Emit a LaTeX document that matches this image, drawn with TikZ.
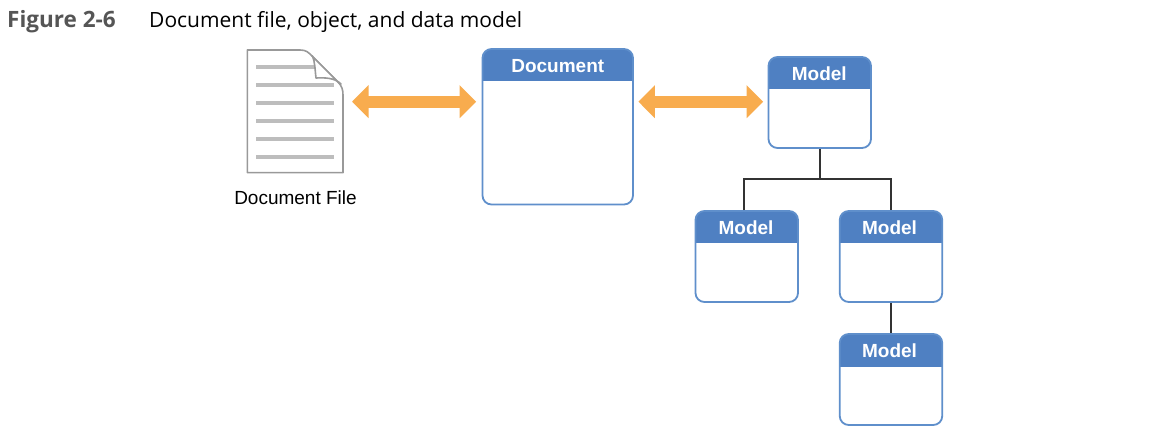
\documentclass[tikz,border=0pt]{standalone}
\usepackage{fontspec}
\setmainfont{Liberation Sans}
\newfontfamily\capfont{Open Sans}
\usetikzlibrary{arrows.meta}
\definecolor{hdrblue}{HTML}{4F80C2}
\definecolor{edgeblue}{HTML}{5F8FCB}
\definecolor{arrorange}{HTML}{F8AC4E}
\definecolor{pagegrey}{HTML}{999999}
\definecolor{rulegrey}{HTML}{BDBDBD}
\definecolor{wirecol}{HTML}{333333}
\definecolor{figgrey}{HTML}{555555}
\tikzset{
  cardbox/.style={draw=edgeblue,line width=1.8pt,fill=white,rounded corners=9pt,inner sep=0pt,
    minimum width=#1,
    path picture={\fill[hdrblue,sharp corners] (path picture bounding box.north west) rectangle ([yshift=-32.5pt]path picture bounding box.north east);}},
  cardtitle/.style={text=white,font=\bfseries\fontsize{19}{21}\selectfont,anchor=base,inner sep=0pt},
  dblarrow/.style={draw=arrorange,line width=12pt,{Triangle[width=32pt,length=16.5pt]}-{Triangle[width=32pt,length=16.5pt]}},
  wire/.style={draw=wirecol,line width=1.6pt},
  pagerule/.style={draw=rulegrey,line width=3.5pt},
  pageline/.style={draw=pagegrey,line width=1.6pt,line join=round}
}
\begin{document}
\begin{tikzpicture}[x=1pt,y=-1pt]
\useasboundingbox (0,0) rectangle (1162,446);
\node[anchor=base west,inner sep=0pt,text=figgrey,font=\capfont\bfseries\fontsize{22.5}{24}\selectfont] (figlabel) at (7,28) {Figure 2-6};
\node[anchor=base west,inner sep=0pt,font=\capfont\fontsize{21}{24}\selectfont] (figtitle) at (149,28) {Document file, object, and data model};
% document file
\coordinate (fileeast) at (343,101.7);
\path[pageline,fill=white] (247.3,50) -- (300,50) .. controls (306,50) and (308,52) .. (312,56) -- (338,82) .. controls (342,86) and (343,90) .. (343,95) -- (343,172.7) -- (247.3,172.7) -- cycle;
\foreach \yy in {85,103,121,139,157}{\draw[pagerule] (256,\yy) -- (334,\yy);}
\draw[pagerule] (256,67) -- (315,67);
\path[pageline,fill=white] (312.5,56) .. controls (315,62) and (315,70) .. (316,78) .. controls (326,77.5) and (335,78) .. (341,84) -- (338,82) -- (312,56) -- cycle;
\node[inner sep=0pt,anchor=base,font=\fontsize{19}{21}\selectfont] (filelabel) at (295.5,204.8) {Document File};
% cards
\node[cardbox=150.5pt,minimum height=155.5pt] (docbox) at (557.75,126.75) {};
\node[cardtitle] (doctitle) at (557.75,72.5) {Document};
\node[cardbox=102.5pt,minimum height=91pt] (mtop) at (819.75,102.5) {};
\node[cardtitle] (mtoptitle) at (819.25,80.7) {Model};
\node[cardbox=102.5pt,minimum height=91pt] (mleft) at (746.75,256.5) {};
\node[cardtitle] (mlefttitle) at (746,234.7) {Model};
\node[cardbox=102.5pt,minimum height=91pt] (mright) at (891,256.5) {};
\node[cardtitle] (mrighttitle) at (889.5,234.7) {Model};
\node[cardbox=102.5pt,minimum height=91pt] (mbot) at (891,379.5) {};
\node[cardtitle] (mbottitle) at (889.5,357) {Model};
% arrows
\coordinate (docw) at (docbox.west |- fileeast);
\coordinate (doce) at (docbox.east |- fileeast);
\coordinate (mtopw) at (mtop.west |- fileeast);
\draw[dblarrow,shorten <=9pt,shorten >=5.5pt] (fileeast) -- (docw);
\draw[dblarrow,shorten <=4.5pt,shorten >=4.5pt] (doce) -- (mtopw);
% tree
\coordinate (bus) at (mtop.south |- 0,179);
\draw[wire] (mtop.south) -- (bus);
\draw[wire] ([xshift=-2.7pt]mleft.north) |- (bus) -| (mright.north);
\draw[wire] (mright.south) -- (mbot.north);
\end{tikzpicture}
\end{document}
